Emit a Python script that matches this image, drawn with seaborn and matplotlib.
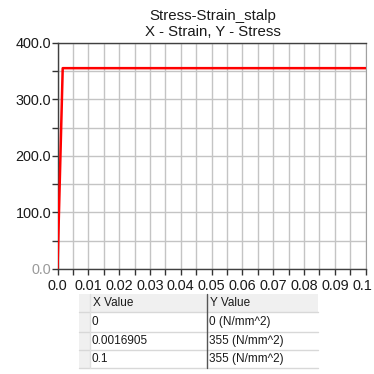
import matplotlib
matplotlib.use("Agg")
import matplotlib.pyplot as plt
import matplotlib.transforms as mtransforms
import seaborn as sns
from matplotlib.ticker import MultipleLocator, FixedLocator
from matplotlib.patches import Rectangle

# data
strain = [0.0, 0.0016905, 0.1]
stress = [0.0, 355.0, 355.0]
x_ticks = [0.0, 0.01, 0.02, 0.03, 0.04, 0.05, 0.06, 0.07, 0.08, 0.09, 0.1]
x_labels = ["0.0", "0.01", "0.02", "0.03", "0.04", "0.05", "0.06", "0.07", "0.08", "0.09", "0.1"]
y_ticks = [0, 100, 200, 300, 400]
y_labels = ["0.0", "100.0", "200.0", "300.0", "400.0"]
table_x = ["0", "0.0016905", "0.1"]
unit = "N/mm^2"
title = "Stress-Strain_stalp\nX - Strain, Y - Stress"

sns.set_style("white")
plt.rcParams["font.family"] = ["Liberation Sans", "DejaVu Sans"]

W = H = 374
fig = plt.figure(figsize=(3.74, 3.74), dpi=100)
fig.patch.set_facecolor("white")

def fx(px):
    return px / W

def fy(py):
    return 1 - py / H

left, right, top, bottom = 57.5, 365.7, 42.7, 269.0
ax = fig.add_axes([fx(left), fy(bottom), fx(right - left), (bottom - top) / H])

sns.lineplot(x=strain, y=stress, color="#ff0000", linewidth=1.8, estimator=None,
             sort=False, ax=ax, zorder=5)

ax.set_xlim(0, 0.1)
ax.set_ylim(0, 400)
ax.xaxis.set_major_locator(FixedLocator(x_ticks))
ax.set_xticklabels(x_labels)
ax.xaxis.set_minor_locator(MultipleLocator(0.005))
ax.yaxis.set_major_locator(FixedLocator(y_ticks))
ax.set_yticklabels(y_labels)
ax.yaxis.set_minor_locator(MultipleLocator(50))
ax.grid(True, which="both", color="#c4c4c4", linewidth=1.0)
ax.set_axisbelow(True)
ax.tick_params(which="both", direction="out", length=4, width=1, color="#333333",
               labelsize=10.4, labelcolor="#1a1a1a", bottom=True, left=True)
ax.tick_params(axis="x", pad=3)
ax.tick_params(axis="y", pad=0.5)
ax.yaxis.get_ticklabels()[0].set_color("#9a9a9a")
# last x label sits flush with the right edge, nudge it in a bit
last = ax.xaxis.get_ticklabels()[-1]
last.set_transform(last.get_transform() +
                   mtransforms.ScaledTranslation(-3 / 100, 0, fig.dpi_scale_trans))
for s in ["left", "bottom", "top"]:
    ax.spines[s].set_color("#404040")
    ax.spines[s].set_linewidth(1.0)
ax.spines["right"].set_color("#a0a0a0")
ax.set_xlabel("")
ax.set_ylabel("")

fig.text(fx(212.5), fy(24), title, ha="center", va="center", fontsize=10.8,
         color="#1a1a1a", linespacing=1.1)

# table below the chart
tab = fig.add_axes([0, 0, 1, 1])
tab.set_xlim(0, W)
tab.set_ylim(H, 0)
tab.axis("off")

cols = [79, 90, 207, 318]
rows = [294, 312, 332, 350, 368]
tab.add_patch(Rectangle((cols[0], rows[0]), cols[3] - cols[0], rows[1] - rows[0],
                        facecolor="#f0f0f0", edgecolor="none"))
tab.add_patch(Rectangle((cols[0], rows[0]), cols[1] - cols[0], rows[4] - rows[0],
                        facecolor="#f0f0f0", edgecolor="none"))
for r in rows[1:]:
    tab.plot([cols[0], cols[3]], [r, r], color="#d8d8d8", lw=1)
tab.plot([cols[2], cols[2]], [rows[0], rows[4]], color="#555555", lw=1)
tab.plot([cols[1], cols[1]], [rows[0], rows[4]], color="#e0e0e0", lw=1)

tab.text(cols[1] + 3, (rows[0] + rows[1]) / 2, "X Value", ha="left", va="center",
         fontsize=8.5, color="#1a1a1a")
tab.text(cols[2] + 3, (rows[0] + rows[1]) / 2, "Y Value", ha="left", va="center",
         fontsize=8.5, color="#1a1a1a")
for i in range(len(table_x)):
    yc = (rows[i + 1] + rows[i + 2]) / 2
    tab.text(cols[1] + 2, yc, table_x[i], ha="left", va="center", fontsize=8.5,
             color="#1a1a1a")
    tab.text(cols[2] + 2, yc, f"{stress[i]:g} ({unit})", ha="left", va="center",
             fontsize=8.5, color="#1a1a1a")

fig.savefig("out.png", dpi=100, facecolor="white")
